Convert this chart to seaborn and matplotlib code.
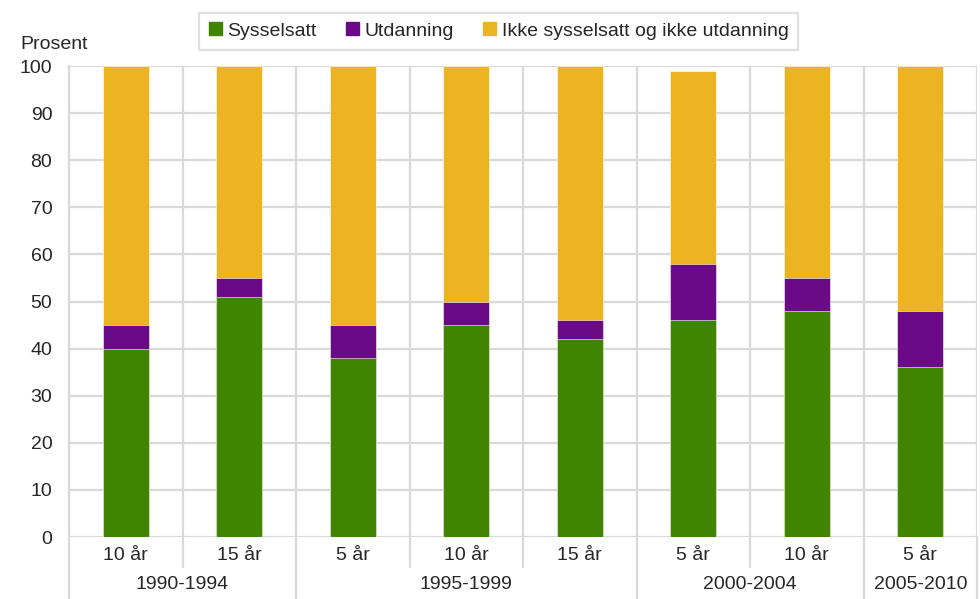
import matplotlib
matplotlib.use("Agg")
import matplotlib.pyplot as plt
from matplotlib.patches import Patch
from matplotlib.lines import Line2D
import numpy as np
import pandas as pd
import seaborn as sns

# data
periods = ["1990-1994", "1990-1994", "1995-1999", "1995-1999", "1995-1999",
           "2000-2004", "2000-2004", "2005-2010"]
years = ["10 år", "15 år", "5 år", "10 år", "15 år", "5 år", "10 år", "5 år"]
sysselsatt = [40, 51, 38, 45, 42, 46, 48, 36]
utdanning = [5, 4, 7, 5, 4, 12, 7, 12]
ikke = [55, 45, 55, 50, 54, 41, 45, 52]

green = "#3f8502"
purple = "#6a0a87"
yellow = "#ecb420"
gridc = "#d9d9d9"
fs = 14

df = pd.DataFrame({"key": [f"{p} {y}" for p, y in zip(periods, years)],
                   "s": sysselsatt, "u": utdanning, "i": ikke})
df["su"] = df["s"] + df["u"]
df["sui"] = df["su"] + df["i"]
order = list(df["key"])

sns.set_style("white")
plt.rcParams["font.family"] = ["Liberation Sans", "DejaVu Sans"]

fig = plt.figure(figsize=(9.8, 5.99), dpi=100)
ax = fig.add_axes([0.0704, 0.1035, 0.9266, 0.7863])

# stacked look: draw cumulative totals from the top down
for col, c in [("sui", yellow), ("su", purple), ("s", green)]:
    sns.barplot(data=df, x="key", y=col, order=order, color=c, width=0.405,
                saturation=1, ax=ax, zorder=3, edgecolor="white", linewidth=0.4)

ax.set_xlim(-0.5, len(order) - 0.5)
ax.set_ylim(0, 100)
ax.set_yticks(range(0, 101, 10))
ax.set_xlabel("")
ax.set_ylabel("")
ax.tick_params(axis="both", length=0, labelsize=fs)
ax.tick_params(axis="y", pad=12)
ax.set_xticks(range(len(order)))
ax.set_xticklabels(years)
ax.tick_params(axis="x", pad=7)

ax.grid(axis="y", color=gridc, linewidth=1.6, zorder=0)
for s in ["top", "right", "bottom"]:
    ax.spines[s].set_visible(False)
ax.spines["left"].set_color(gridc)
ax.spines["left"].set_linewidth(1.6)
ax.spines["left"].set_zorder(0)

# vertical separators inside the plot and under the axis
trans = ax.get_xaxis_transform()
group_edges = [-0.5, 1.5, 4.5, 6.5, 7.5]
for b in np.arange(-0.5, len(order), 1.0):
    ax.axvline(b, color=gridc, linewidth=1.6, zorder=0)
    low = -0.133 if b in group_edges else -0.064
    ax.add_line(Line2D([b, b], [0, low], transform=trans, color=gridc,
                       linewidth=1.6, clip_on=False))

# period labels
for p in dict.fromkeys(periods):
    idx = [i for i, q in enumerate(periods) if q == p]
    ax.text(np.mean(idx), -0.1, p, transform=trans, ha="center", va="center",
            fontsize=fs)

fig.text(0.0204, 0.925, "Prosent", fontsize=fs, ha="left", va="center")

handles = [Patch(color=green, label="Sysselsatt"),
           Patch(color=purple, label="Utdanning"),
           Patch(color=yellow, label="Ikke sysselsatt og ikke utdanning")]
leg = fig.legend(handles=handles, loc="center", bbox_to_anchor=(0.509, 0.948),
                 ncol=3, fontsize=fs, frameon=True, fancybox=False,
                 handlelength=0.65, handleheight=0.65, handletextpad=0.3,
                 columnspacing=1.5, borderpad=0.5)
leg.get_frame().set_edgecolor(gridc)
leg.get_frame().set_linewidth(1.6)

fig.savefig("out.png", dpi=100)
